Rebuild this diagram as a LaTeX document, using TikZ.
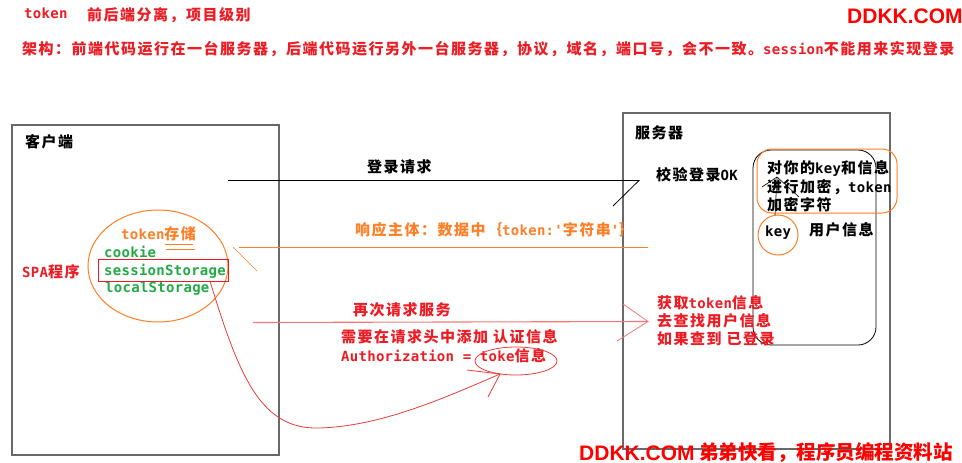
\documentclass[tikz,border=0pt]{standalone}
\usepackage{fontspec}
\setmainfont{Liberation Sans}
\newfontfamily\cjkf{Noto Sans CJK SC}[LetterSpace=10]
\newfontfamily\cjkw{Noto Sans CJK SC}
\newfontfamily\monof{DejaVu Sans Mono}[LetterSpace=2]
\newcommand\mtxt[1]{{\monof\bfseries\fontsize{14}{16}\selectfont #1}}
\definecolor{pred}{RGB}{237,28,36}
\definecolor{porange}{RGB}{255,127,39}
\definecolor{pgreen}{RGB}{34,170,70}
\definecolor{boxgray}{RGB}{105,105,105}
\definecolor{pink}{RGB}{245,120,120}
\definecolor{curvered}{RGB}{235,60,60}
\definecolor{wmred}{RGB}{255,0,0}
\tikzset{
  txt/.style={anchor=west, inner sep=0pt, font=\cjkf\bfseries\fontsize{15}{17}\selectfont},
  blk/.style={txt, text=black},
  rtxt/.style={txt, text=pred},
  otxt/.style={txt, text=porange},
  gtxt/.style={anchor=west, inner sep=0pt, text=pgreen, font=\monof\bfseries\fontsize{14}{16}\selectfont},
  wm/.style={anchor=west, inner sep=0pt, text=wmred, font=\bfseries\fontsize{21}{24}\selectfont},
  panel/.style={draw=boxgray, line width=1.5pt},
  thinblack/.style={draw=black, line width=0.8pt},
  orangeline/.style={draw=porange, line width=1pt},
  redline/.style={draw=pink, line width=1.1pt},
  curveline/.style={draw=curvered, line width=0.8pt},
}
\begin{document}
\begin{tikzpicture}[x=1pt, y=-1pt]
\useasboundingbox[fill=white] (0,0) rectangle (962,463);

% panels
\draw[panel] (12,125) rectangle (279,455);
\draw[panel] (623,113) rectangle (890,449);

% header texts
\node[rtxt] (t1) at (24,13) {\mtxt{token}};
\node[rtxt] (t2) at (87,15) {前后端分离，项目级别};
\node[rtxt] (t3) at (22,49) {架构：前端代码运行在一台服务器，后端代码运行另外一台服务器，协议，域名，端口号，会不一致。\mtxt{session}不能用来实现登录};
\node[wm] (wm1) at (847,16) {DDKK.COM};

% client
\node[blk] (client) at (25,142) {客户端};
\node[rtxt] (spa) at (22,272) {\mtxt{SPA}程序};
\draw[orangeline] (158,266) ellipse [x radius=70, y radius=56];
\node[otxt] (store) at (121,234) {\mtxt{token}存储};
\draw[orangeline, line width=0.6pt] (165,244) -- (193,244) (166,249) -- (195,249);
\node[gtxt] (cookie) at (104,252) {cookie};
\node[gtxt] (sess) at (104,271) {sessionStorage};
\node[gtxt] (local) at (105,289) {localStorage};
\draw[draw=pred, line width=0.9pt] (98,259) rectangle (228,281);
\coordinate (sessbot) at (210,281);

% server
\node[blk] (server) at (635,133) {服务器};
\node[blk] (ok) at (656,175) {校验登录\mtxt{OK}};
\draw[thinblack, rounded corners=18pt] (753,150) rectangle (876,345);
\draw[orangeline, rounded corners=15pt] (757,149) rectangle (897,213);
\node[blk] (enc1) at (767,168) {对你的\mtxt{key}和信息};
\node[blk] (enc2) at (767,187) {进行加密，\mtxt{token}};
\node[blk] (enc3) at (767,205) {加密字符};
\node[blk] (key) at (765,233) {\mtxt{key}};
\draw[orangeline] (778,235) circle [radius=20];
\node[blk] (uinfo) at (809,230) {用户信息};
\coordinate (upbase) at (775,215);
\coordinate (uptip) at (777,177);
\coordinate (upl) at (762,187);
\coordinate (upr) at (799,197);
\draw[thinblack, line width=0.6pt] (upbase) -- (uptip) (upl) -- (uptip) -- (upr);
\node[rtxt] (s1) at (657,303) {获取\mtxt{token}信息};
\node[rtxt] (s2) at (657,321) {去查找用户信息};
\node[rtxt] (s3) at (657,339) {如果查到 已登录};

% login request
\node[blk] (login) at (367,167) {登录请求};
\coordinate (lstart) at (228,180.5);
\coordinate (ltip) at (639,180.5);
\coordinate (lbarb) at (613,206);
\draw[thinblack] (lstart) -- (ltip) -- (lbarb);

% response
\node[otxt] (resp) at (355,230) {响应主体：数据中｛\mtxt{token:'}字符串\mtxt{'}｝};
\coordinate (rstart) at (648,247.5);
\coordinate (rend) at (239,247.5);
\coordinate (rb1) at (233,247);
\coordinate (rb2) at (257,271);
\draw[orangeline] (rstart) -- (rend);
\draw[orangeline, line width=0.6pt] (rb1) -- (rb2);

% second request
\node[rtxt] (again) at (353,310) {再次请求服务};
\coordinate (astart) at (253,322.5);
\coordinate (atip) at (648,321.5);
\coordinate (ab1) at (623,304);
\coordinate (ab2) at (617,341);
\draw[redline] (astart) -- (atip);
\draw[redline, line width=0.8pt] (ab1) -- (atip) -- (ab2);
\node[rtxt] (hdr) at (341,337) {需要在请求头中添加 认证信息};
\node[rtxt] (auth) at (341,356) {\mtxt{Authorization = toke}信息};
\draw[curveline] (516,361) ellipse [x radius=41, y radius=14];
\coordinate (ctip) at (500,374);
\coordinate (cb1) at (467,370);
\coordinate (cb2) at (488,397);
\draw[curveline] (sessbot) .. controls (240,380) and (262,430) .. (320,428)
   .. controls (380,426) and (440,400) .. (ctip);
\draw[curveline] (cb1) -- (ctip) -- (cb2);

% bottom watermark
\node[wm] (wm2) at (579,453) {DDKK.COM};
\node[anchor=west, inner sep=0pt, text=wmred, font=\cjkw\bfseries\fontsize{19.5}{22}\selectfont] (wm3) at (699,453) {弟弟快看，程序员编程资料站};
\end{tikzpicture}
\end{document}
